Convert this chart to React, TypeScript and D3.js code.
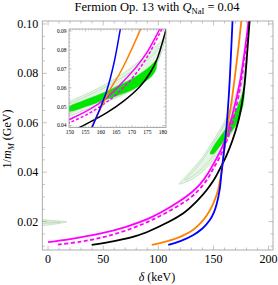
import React, { useEffect, useRef } from 'react';
import * as d3 from 'd3';

// curves: [delta (keV), 1/m_M (1/GeV)]
const magentaSolid: [number, number][] = [
  [0, 0.0117], [20, 0.0129], [47, 0.0151], [70, 0.0178], [92.5, 0.0215], [116.7, 0.0275],
  [130, 0.0318], [137.9, 0.0352], [145, 0.0395], [149.8, 0.0432], [156.5, 0.0487],
  [161.8, 0.0546], [167.2, 0.0633], [171.5, 0.0712], [174.7, 0.0783], [178.5, 0.0896],
  [181.8, 0.1012], [182.3, 0.104],
];
const magentaDashed: [number, number][] = [
  [9, 0.0107], [30, 0.0119], [50, 0.0137], [70, 0.0163], [92.5, 0.0203], [116.7, 0.026],
  [130, 0.03], [137.9, 0.0334], [145, 0.0375], [149.8, 0.0414], [156.5, 0.0468],
  [162.9, 0.0537], [167.2, 0.06], [171.5, 0.068], [175, 0.0765], [179.2, 0.0896],
  [182.6, 0.1012], [183.1, 0.104],
];
const blackCurve: [number, number][] = [
  [39.6, 0.0106], [60, 0.0121], [80, 0.0142], [92.5, 0.0163], [107.7, 0.0195], [122.7, 0.0234],
  [135, 0.0283], [143.9, 0.0328], [150, 0.0366], [154.3, 0.04], [161.8, 0.0467],
  [167.2, 0.0528], [172.6, 0.0607], [175.8, 0.0677], [178, 0.0747], [179.6, 0.0826],
  [180.8, 0.0896], [182.8, 0.1012], [183.3, 0.104],
];
const orangeCurve: [number, number][] = [
  [94.1, 0.0106], [105, 0.0117], [115, 0.013], [122.7, 0.0144], [132, 0.0168], [140.9, 0.0207],
  [146, 0.024], [150, 0.0275], [154, 0.0325], [157, 0.0395], [159.7, 0.0484], [162.9, 0.0589],
  [166.1, 0.0677], [168.8, 0.0765], [172.4, 0.0896], [175.3, 0.1012], [175.9, 0.104],
];
const blueCurve: [number, number][] = [
  [109, 0.0106], [120, 0.0121], [131.8, 0.0146], [140, 0.0172], [146.9, 0.0207], [150.5, 0.0238],
  [153, 0.0272], [155.5, 0.0325], [157.3, 0.0396], [161.8, 0.0581], [164.2, 0.073],
  [166.1, 0.0896], [167.3, 0.1012], [167.6, 0.104],
];

// allowed regions (contours)
const lightOuter: [number, number][] = [
  [119, 0.0352], [125, 0.0383], [132, 0.0418], [140, 0.046], [149.8, 0.0528], [156, 0.0573],
  [162, 0.0623], [168, 0.0686], [173, 0.075], [177, 0.0808], [179.5, 0.0845], [181, 0.0866],
  [180.4, 0.0835], [179.6, 0.079], [178.3, 0.0735], [176.3, 0.068], [173.3, 0.0625],
  [169, 0.0578], [162.5, 0.053], [156, 0.049], [149.8, 0.0449], [141, 0.0405], [132, 0.0375],
  [124, 0.0358],
];
const lightInner: [number, number][] = [
  [124, 0.0368], [132, 0.0406], [140, 0.0449], [149.8, 0.0516], [156, 0.056], [162, 0.0608],
  [168, 0.0666], [173, 0.0722], [176.8, 0.0775], [178.8, 0.081], [179.3, 0.079],
  [178, 0.0735], [175.8, 0.0685], [172.6, 0.0635], [168.5, 0.0595], [162, 0.055], [156, 0.0509],
  [149.8, 0.0466], [141, 0.042], [132, 0.0386],
];
const darkRegion: [number, number][] = [
  [147, 0.0475], [149.8, 0.0503], [155, 0.0537], [161.8, 0.0581], [166, 0.0615], [170.4, 0.0651],
  [174, 0.069], [176.6, 0.0725], [177.8, 0.0745], [177.9, 0.0705], [176.6, 0.0665], [173.6, 0.0625],
  [170.5, 0.0592], [165.5, 0.0559], [161.3, 0.0536], [155, 0.05], [149.8, 0.0474],
];
const smallOuter: [number, number][] = [
  [-6, 0.0205], [5, 0.0204], [12, 0.0202], [17, 0.0199], [12, 0.0194], [5, 0.0189], [-6, 0.0187],
];
const smallInner: [number, number][] = [
  [-6, 0.0199], [5, 0.0198], [11, 0.0197], [5, 0.0195], [-6, 0.0194],
];

const xMajor = [0, 50, 100, 150, 200];
const yMajor = [0.02, 0.04, 0.06, 0.08, 0.1];
const insetXMajor = [150, 155, 160, 165, 170, 175, 180];
const insetYMajor = [0.04, 0.05, 0.06, 0.07, 0.08, 0.09];

const curves = [
  { data: magentaSolid, color: '#ff00ff', dash: false },
  { data: magentaDashed, color: '#ff00ff', dash: true },
  { data: blackCurve, color: '#000000', dash: false },
  { data: orangeCurve, color: '#ff8000', dash: false },
  { data: blueCurve, color: '#0000ff', dash: false },
];

const frameColor = '#9a9a9a';
const serif = "'Liberation Serif', 'DejaVu Serif', serif";

function drawPanel(g, x, y, opts) {
  const [x0, x1] = x.range();
  const [y0, y1] = y.range();
  const clipId = opts.id + '-clip';
  g.append('clipPath').attr('id', clipId)
    .append('rect').attr('x', x0).attr('y', y1).attr('width', x1 - x0).attr('height', y0 - y1);

  g.append('rect').attr('x', x0).attr('y', y1).attr('width', x1 - x0).attr('height', y0 - y1)
    .attr('fill', 'white');

  const body = g.append('g').attr('clip-path', `url(#${clipId})`);
  const poly = d3.line().x(d => x(d[0])).y(d => y(d[1])).curve(d3.curveCatmullRomClosed.alpha(0.5));
  const line = d3.line().x(d => x(d[0])).y(d => y(d[1])).curve(d3.curveCatmullRom.alpha(0.5));

  const regions = opts.small ? [lightOuter, lightInner, smallOuter, smallInner] : [lightOuter, lightInner];
  regions.forEach(r => {
    body.append('path').attr('d', poly(r)).attr('fill', '#e2f6e2')
      .attr('stroke', '#a9c6a9').attr('stroke-width', 0.5);
  });
  body.append('path').attr('d', poly(darkRegion)).attr('fill', '#00e600')
    .attr('stroke', '#2fd42f').attr('stroke-width', 0.4);

  curves.forEach(c => {
    body.append('path').attr('d', line(c.data)).attr('fill', 'none')
      .attr('stroke', c.color).attr('stroke-width', opts.lw)
      .attr('stroke-dasharray', c.dash ? opts.dash : null);
  });

  // frame
  g.append('rect').attr('x', x0).attr('y', y1).attr('width', x1 - x0).attr('height', y0 - y1)
    .attr('fill', 'none').attr('stroke', frameColor).attr('stroke-width', 0.8);

  const ticks = g.append('g').attr('stroke', frameColor).attr('stroke-width', 0.6);
  const xd = x.domain(), yd = y.domain();
  const xMin = d3.range(Math.ceil(xd[0] / opts.xMinor) * opts.xMinor, xd[1], opts.xMinor);
  const yMin = d3.range(Math.ceil(yd[0] / opts.yMinor - 1e-6) * opts.yMinor, yd[1], opts.yMinor);
  const isMajor = (v, list) => list.some(m => Math.abs(m - v) < 1e-7);
  xMin.forEach(v => {
    const len = isMajor(v, opts.xMajor) ? opts.major : opts.minor;
    ticks.append('line').attr('x1', x(v)).attr('x2', x(v)).attr('y1', y0).attr('y2', y0 - len);
    ticks.append('line').attr('x1', x(v)).attr('x2', x(v)).attr('y1', y1).attr('y2', y1 + len);
  });
  yMin.forEach(v => {
    const len = isMajor(v, opts.yMajor) ? opts.major : opts.minor;
    ticks.append('line').attr('x1', x0).attr('x2', x0 + len).attr('y1', y(v)).attr('y2', y(v));
    ticks.append('line').attr('x1', x1).attr('x2', x1 - len).attr('y1', y(v)).attr('y2', y(v));
  });

  g.selectAll('text.xl').data(opts.xMajor).enter().append('text')
    .attr('x', d => x(d)).attr('y', y0 + opts.xLabelDy)
    .attr('text-anchor', 'middle').style('font-family', serif).style('font-size', opts.fs + 'px')
    .text(d => d3.format('d')(d));
  g.selectAll('text.yl').data(opts.yMajor).enter().append('text')
    .attr('x', x0 - opts.yLabelDx).attr('y', d => y(d) + opts.fs * 0.33)
    .attr('text-anchor', 'end').style('font-family', serif).style('font-size', opts.fs + 'px')
    .text(d => d3.format('.2f')(d));
}

const App = () => {
  const ref = useRef(null);

  useEffect(() => {
    const svg = d3.select(ref.current);
    svg.selectAll('*').remove();

    const x = d3.scaleLinear().domain([-5.2, 204]).range([42.3, 273]);
    const y = d3.scaleLinear().domain([0.0085, 0.1012]).range([250, 21]);
    drawPanel(svg.append('g'), x, y, {
      id: 'main', lw: 1.8, dash: '4,2.5', small: true,
      xMinor: 10, yMinor: 0.005, xMajor, yMajor, major: 4.5, minor: 2.5,
      fs: 12, xLabelDy: 13, yLabelDx: 4,
    });

    const ix = d3.scaleLinear().domain([149.7, 181]).range([69, 166]);
    const iy = d3.scaleLinear().domain([0.039, 0.0911]).range([127.5, 29]);
    drawPanel(svg.append('g'), ix, iy, {
      id: 'inset', lw: 1.5, dash: '3,2', small: false,
      xMinor: 1, yMinor: 0.002, xMajor: insetXMajor, yMajor: insetYMajor, major: 2.5, minor: 1.3,
      fs: 5.5, xLabelDy: 6.5, yLabelDx: 2.5,
    });

    // title
    const t = svg.append('text').attr('x', 157).attr('y', 11).attr('text-anchor', 'middle')
      .style('font-family', serif).style('font-size', '12.5px');
    t.append('tspan').text('Fermion Op. 13 with ');
    t.append('tspan').style('font-style', 'italic').text('Q');
    t.append('tspan').attr('dy', 2.5).style('font-size', '8.5px').text('NaI');
    t.append('tspan').attr('dy', -2.5).text(' = 0.04');

    // axis labels
    const xl = svg.append('text').attr('x', 157).attr('y', 281).attr('text-anchor', 'middle')
      .style('font-family', serif).style('font-size', '12px');
    xl.append('tspan').style('font-style', 'italic').text('δ');
    xl.append('tspan').text(' (keV)');

    const yl = svg.append('text').attr('transform', 'translate(11,139) rotate(-90)')
      .attr('text-anchor', 'middle').style('font-family', serif).style('font-size', '12px');
    yl.append('tspan').text('1/');
    yl.append('tspan').style('font-style', 'italic').text('m');
    yl.append('tspan').attr('dy', 2.5).style('font-style', 'italic').style('font-size', '8.5px').text('M');
    yl.append('tspan').attr('dy', -2.5).text(' (GeV)');
  }, []);

  return (
    <svg ref={ref} width={278} height={285}
      style={{ position: 'absolute', left: 0, top: 0, background: 'white' }} />
  );
};

export default App;
